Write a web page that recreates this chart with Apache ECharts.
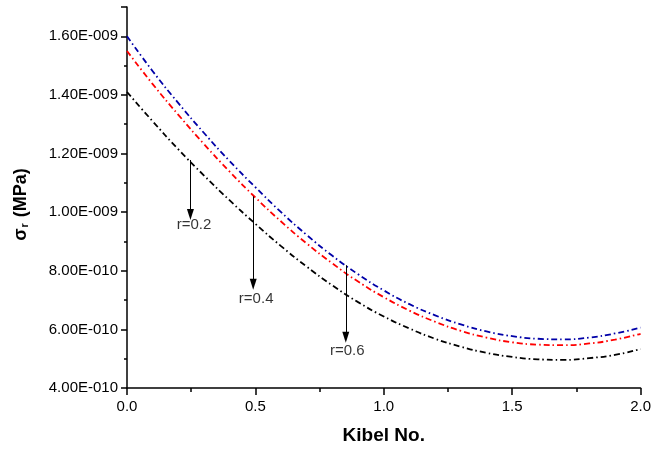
<!DOCTYPE html>
<html>
<head>
<meta charset="utf-8">
<script src="https://cdn.jsdelivr.net/npm/echarts@6/dist/echarts.min.js"></script>
<style>html,body{margin:0;padding:0;background:#fff}#c{width:654px;height:450px}</style>
</head>
<body>
<div id="c"></div>
<script>
// Kibel number (x axis)
const kibel = [0,0.1,0.2,0.3,0.4,0.5,0.6,0.7,0.8,0.9,1.0,1.1,1.2,1.3,1.4,1.5,1.6,1.7,1.8,1.9,2.0];
// sigma_r values in units of 1E-009 MPa
const blueVals  = [1.600,1.481,1.372,1.270,1.174,1.085,1.000,0.922,0.851,0.788,0.733,0.686,0.648,0.617,0.593,0.577,0.568,0.566,0.572,0.586,0.606];
const redVals   = [1.550,1.437,1.332,1.232,1.138,1.050,0.968,0.893,0.825,0.763,0.710,0.664,0.626,0.595,0.572,0.556,0.548,0.546,0.552,0.565,0.585];
const blackVals = [1.410,1.310,1.214,1.125,1.040,0.960,0.884,0.814,0.750,0.693,0.644,0.603,0.568,0.541,0.520,0.506,0.498,0.496,0.502,0.513,0.533];
// annotation arrows: [x, yStart, yEnd] (units of 1E-009) and labels [x, y, text]
const arrows = [[0.247,1.178,0.992],[0.4915,1.054,0.754],[0.852,0.819,0.573]];
const arrowLabels = [[0.261,0.957,'r=0.2'],[0.503,0.703,'r=0.4'],[0.858,0.527,'r=0.6']];
const yTicks = {min:0.4, max:1.7, interval:0.2};
const xTicks = {min:0, max:2, interval:0.5};

function fmtE(v){
  const s = (v*1e-9).toExponential(2);
  const parts = s.split('e');
  const n = parseInt(parts[1],10);
  return parts[0] + 'E' + (n<0?'-':'+') + String(Math.abs(n)).padStart(3,'0');
}
const pair = (ys) => kibel.map((x,i)=>[x,ys[i]]);
const dashDot = [6,3,1.5,3];
const FONT = 'Liberation Sans, Arial, sans-serif';

const chart = echarts.init(document.getElementById('c'), null, {renderer:'canvas'});
chart.setOption({
  animation:false,
  backgroundColor:'#fff',
  grid:{left:127, right:9, top:7, bottom:61, containLabel:false},
  xAxis:{
    type:'value', min:xTicks.min, max:xTicks.max, interval:xTicks.interval,
    name:'Kibel No.', nameLocation:'middle', nameGap:38,
    nameTextStyle:{fontFamily:FONT, fontSize:19, fontWeight:'bold', color:'#000'},
    axisLine:{show:true, onZero:false, lineStyle:{color:'#000', width:1.5}},
    axisTick:{show:true, inside:false, length:7, lineStyle:{color:'#000', width:1.5}},
    minorTick:{show:true, splitNumber:2, length:4, lineStyle:{color:'#000', width:1.5}},
    splitLine:{show:false},
    axisLabel:{fontFamily:FONT, fontSize:15, color:'#000', margin:11, formatter:(v)=>v.toFixed(1)}
  },
  yAxis:{
    type:'value', min:yTicks.min, max:yTicks.max, interval:yTicks.interval,
    name:'{s|σ}{sub|r}{s| (MPa)}', nameLocation:'middle', nameGap:97, nameRotate:90,
    nameTextStyle:{fontFamily:FONT, fontSize:18, fontWeight:'bold', color:'#000', padding:[0,14,0,0],
      rich:{s:{fontFamily:FONT, fontSize:18, fontWeight:'bold', color:'#000'},
            sub:{fontFamily:FONT, fontSize:11, fontWeight:'bold', color:'#000', verticalAlign:'bottom', padding:[7,1,0,1]}}},
    axisLine:{show:true, onZero:false, lineStyle:{color:'#000', width:1.5}},
    axisTick:{show:true, inside:false, length:6, lineStyle:{color:'#000', width:1.5}},
    minorTick:{show:true, splitNumber:2, length:3, lineStyle:{color:'#000', width:1.5}},
    splitLine:{show:false},
    axisLabel:{fontFamily:FONT, fontSize:15, color:'#000', margin:9, showMaxLabel:false,
      formatter:(v)=>{ const k=(v-yTicks.min)/yTicks.interval; return Math.abs(k-Math.round(k))>1e-6 ? '' : fmtE(v); }}
  },
  series:[
    {type:'line', name:'blue', data:pair(blueVals), smooth:true, showSymbol:false,
     lineStyle:{color:'#0000a8', width:1.8, type:dashDot}, z:3},
    {type:'line', name:'red', data:pair(redVals), smooth:true, showSymbol:false,
     lineStyle:{color:'#ff0000', width:1.8, type:dashDot}, z:3},
    {type:'line', name:'black', data:pair(blackVals), smooth:true, showSymbol:false,
     lineStyle:{color:'#000000', width:1.8, type:dashDot}, z:3,
     markLine:{
       silent:true, animation:false, symbol:['none','triangle'], symbolSize:[7,11],
       lineStyle:{color:'#000', width:1, type:'solid'},
       label:{show:false},
       data: arrows.map(a=>[{coord:[a[0],a[1]], symbol:'none'},{coord:[a[0],a[2]], symbol:'triangle', symbolRotate:180}])
     }},
    {type:'scatter', name:'labels', symbolSize:0, silent:true,
     data: arrowLabels.map(l=>({value:[l[0],l[1]], name:l[2]})),
     label:{show:true, position:'inside', formatter:(p)=>p.name, fontFamily:FONT, fontSize:15, color:'#000'}}
  ]
});
</script>
</body>
</html>
